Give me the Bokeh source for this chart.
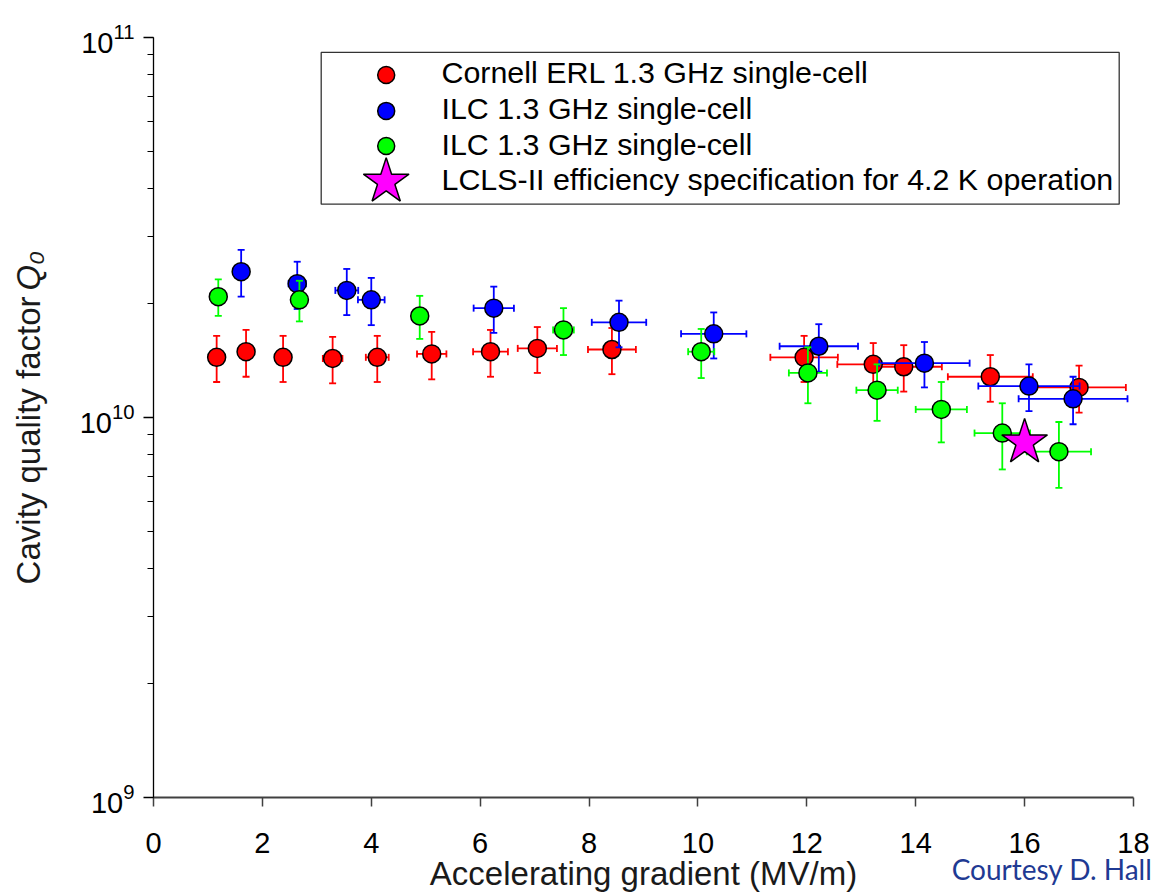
import numpy as np
from bokeh.plotting import figure
from bokeh.models import Range1d, Label, LogTicker, FixedTicker, LinearAxis, LogAxis
from bokeh.embed import file_html
from bokeh.resources import INLINE

# ---------------- data ----------------
cornell_x = [1.16, 1.70, 2.38, 3.29, 4.11, 5.11, 6.19, 7.05, 8.42, 11.95, 13.22, 13.78, 15.37, 17.00]
cornell_q = [1.44e10, 1.49e10, 1.44e10, 1.43e10, 1.44e10, 1.47e10, 1.49e10, 1.52e10, 1.51e10,
             1.44e10, 1.38e10, 1.36e10, 1.28e10, 1.20e10]
cornell_xerr = [0.06, 0.09, 0.12, 0.18, 0.21, 0.27, 0.32, 0.36, 0.44, 0.62, 0.66, 0.70, 0.78, 0.86]
cornell_qerr = [0.20e10, 0.21e10, 0.20e10, 0.20e10, 0.20e10, 0.21e10, 0.21e10, 0.21e10, 0.21e10,
                0.20e10, 0.19e10, 0.19e10, 0.18e10, 0.17e10]

ilc_blue_x = [1.61, 2.64, 3.55, 4.00, 6.25, 8.55, 10.29, 12.22, 14.16, 16.08, 16.89]
ilc_blue_q = [2.42e10, 2.25e10, 2.16e10, 2.04e10, 1.94e10, 1.78e10, 1.66e10, 1.54e10, 1.39e10,
              1.21e10, 1.12e10]
ilc_blue_xerr = [0.10, 0.16, 0.21, 0.245, 0.37, 0.50, 0.60, 0.72, 0.83, 0.93, 1.00]
ilc_blue_qerr = [0.34e10, 0.32e10, 0.30e10, 0.29e10, 0.27e10, 0.25e10, 0.23e10, 0.22e10, 0.19e10,
                 0.17e10, 0.16e10]

ilc_green_x = [1.19, 2.68, 4.89, 7.53, 10.06, 12.02, 13.29, 14.47, 15.59, 16.63]
ilc_green_q = [2.08e10, 2.04e10, 1.85e10, 1.70e10, 1.49e10, 1.31e10, 1.18e10, 1.05e10, 0.91e10, 0.813e10]
ilc_green_xerr = [0.03, 0.07, 0.12, 0.19, 0.24, 0.35, 0.38, 0.47, 0.51, 0.59]
ilc_green_qerr = [0.23e10, 0.25e10, 0.24e10, 0.24e10, 0.22e10, 0.22e10, 0.20e10, 0.19e10, 0.18e10, 0.16e10]

lcls_x = [16.0]
lcls_q = [0.86e10]

legend_labels = ["Cornell ERL 1.3 GHz single-cell",
                 "ILC 1.3 GHz single-cell",
                 "ILC 1.3 GHz single-cell",
                 "LCLS-II efficiency specification for 4.2 K operation"]
x_ticks = [0, 2, 4, 6, 8, 10, 12, 14, 16, 18]
x_title = "Accelerating gradient (MV/m)"
y_title = "Cavity quality factor"
y_title_sym = "Q\u2080"
credit = "Courtesy D. Hall"

X_LO, X_HI = 0, 18
Y_LO, Y_HI = 1e9, 1e11

# ---------------- layout ----------------
W, H = 1152, 894
FL, FR, FT, FB = 153, 1133, 37, 800
FW, FH = FR - FL, FB - FT
FONT = "Liberation Sans"
NB = "\u00a0"   # non-collapsing space used to slide a centred axis title along its axis

p = figure(width=W, height=H, x_range=Range1d(X_LO, X_HI), y_range=Range1d(Y_LO, Y_HI),
           y_axis_type="log", output_backend="svg", toolbar_location=None,
           min_border_left=FL, min_border_right=W - FR, min_border_top=FT, min_border_bottom=H - FB)
p.outline_line_color = None
p.grid.visible = False
p.background_fill_color = "white"
p.border_fill_color = "white"


def dx(s):
    return X_LO + s / FW * (X_HI - X_LO)


def dy(s):
    return 10 ** (np.log10(Y_LO) + s / FH * (np.log10(Y_HI) - np.log10(Y_LO)))


def hide_rule(ax):
    ax.ticker = FixedTicker(ticks=[])
    ax.axis_line_color = None
    ax.major_tick_line_color = None
    ax.minor_tick_line_color = None
    ax.major_tick_out = 0
    ax.minor_tick_out = 0
    ax.major_label_text_font_size = "0px"


# x axis
xa = p.xaxis[0]
xa.ticker = FixedTicker(ticks=x_ticks)
xa.axis_line_color = "#404040"
xa.axis_line_width = 2
xa.major_tick_line_color = "#404040"
xa.major_tick_line_width = 1.5
xa.major_tick_in = 0
xa.major_tick_out = 9
xa.minor_tick_line_color = None
xa.major_label_text_font = FONT
xa.major_label_text_font_size = "29px"
xa.major_label_text_color = "black"
xa.major_label_standoff = 26
xa.axis_label = x_title
xa.axis_label_text_font = FONT
xa.axis_label_text_font_size = "33px"
xa.axis_label_text_font_style = "normal"
xa.axis_label_text_color = "#1a1a1a"
xa.axis_label_standoff = -1

# credit line on its own rule-less axis (slid to the right with leading non-breaking spaces)
xc = LinearAxis()
hide_rule(xc)
xc.axis_label = NB * 114 + credit
xc.axis_label_text_font = "Lato"
xc.axis_label_text_font_size = "28px"
xc.axis_label_text_font_style = "normal"
xc.axis_label_text_color = "#1F3A93"
xc.axis_label_standoff = -43
p.add_layout(xc, "below")

# y axis
ya = p.yaxis[0]
ya.ticker = LogTicker(num_minor_ticks=10)
ya.axis_line_color = "black"
ya.axis_line_width = 1.3
ya.major_tick_line_color = "black"
ya.major_tick_line_width = 1.3
ya.major_tick_in = 0
ya.major_tick_out = 10
ya.minor_tick_line_color = "black"
ya.minor_tick_line_width = 1.2
ya.minor_tick_in = 0
ya.minor_tick_out = 6
ya.major_label_text_font = FONT
ya.major_label_text_font_size = "29px"
ya.major_label_text_color = "black"
ya.major_label_standoff = 9

# y title in two parts (plain text + italic symbol) on rule-less axes
yb = LogAxis()
hide_rule(yb)
yb.axis_label = y_title + NB * 5
yb.axis_label_text_font = FONT
yb.axis_label_text_font_size = "33px"
yb.axis_label_text_font_style = "normal"
yb.axis_label_text_color = "#1a1a1a"
yb.axis_label_standoff = 30
p.add_layout(yb, "left")

yc = LogAxis()
hide_rule(yc)
yc.axis_label = NB * 32 + y_title_sym
yc.axis_label_text_font = FONT
yc.axis_label_text_font_size = "33px"
yc.axis_label_text_font_style = "italic"
yc.axis_label_text_color = "#1a1a1a"
yc.axis_label_standoff = -40
p.add_layout(yc, "left")


def add_series(x, q, xerr, qerr, color):
    x = np.array(x); q = np.array(q); xe = np.array(xerr); qe = np.array(qerr)
    lw = 1.8
    p.segment(x, q - qe, x, q + qe, line_color=color, line_width=lw)
    p.segment(x - xe, q, x + xe, q, line_color=color, line_width=lw)
    p.scatter(x, q - qe, marker="dash", size=7, line_color=color, line_width=lw)
    p.scatter(x, q + qe, marker="dash", size=7, line_color=color, line_width=lw)
    p.scatter(x - xe, q, marker="dash", angle=np.pi / 2, size=7, line_color=color, line_width=lw)
    p.scatter(x + xe, q, marker="dash", angle=np.pi / 2, size=7, line_color=color, line_width=lw)
    p.scatter(x, q, marker="circle", size=18, fill_color=color, line_color="black", line_width=1.5)


add_series(cornell_x, cornell_q, cornell_xerr, cornell_qerr, "#FF0000")
add_series(ilc_blue_x, ilc_blue_q, ilc_blue_xerr, ilc_blue_qerr, "#0000FF")
add_series(ilc_green_x, ilc_green_q, ilc_green_xerr, ilc_green_qerr, "#00FF00")
p.scatter(lcls_x, lcls_q, marker="star", size=48, fill_color="#FF00FF", line_color="black", line_width=1.5)

# ---------------- legend (drawn by hand) ----------------
p.quad(left=[dx(167.7)], right=[dx(965.7)], top=[dy(748)], bottom=[dy(595.7)],
       fill_color="white", line_color="#333333", line_width=1.3)
leg_rows = [725.3, 689.3, 654.0, 618.3]
leg_colors = ["#FF0000", "#0000FF", "#00FF00"]
for i, c in enumerate(leg_colors):
    p.scatter([dx(232.7)], [dy(leg_rows[i])], marker="circle", size=17, fill_color=c,
              line_color="black", line_width=1.5)
p.scatter([dx(232.7)], [dy(leg_rows[3])], marker="star", size=48, fill_color="#FF00FF",
          line_color="black", line_width=1.5)
for i, t in enumerate(legend_labels):
    p.add_layout(Label(x=288, y=leg_rows[i], x_units="screen", y_units="screen", text=t,
                       text_font=FONT, text_font_size="30.4px", text_color="black",
                       text_align="left", text_baseline="alphabetic"))

open("out.html", "w").write(file_html(p, INLINE))
